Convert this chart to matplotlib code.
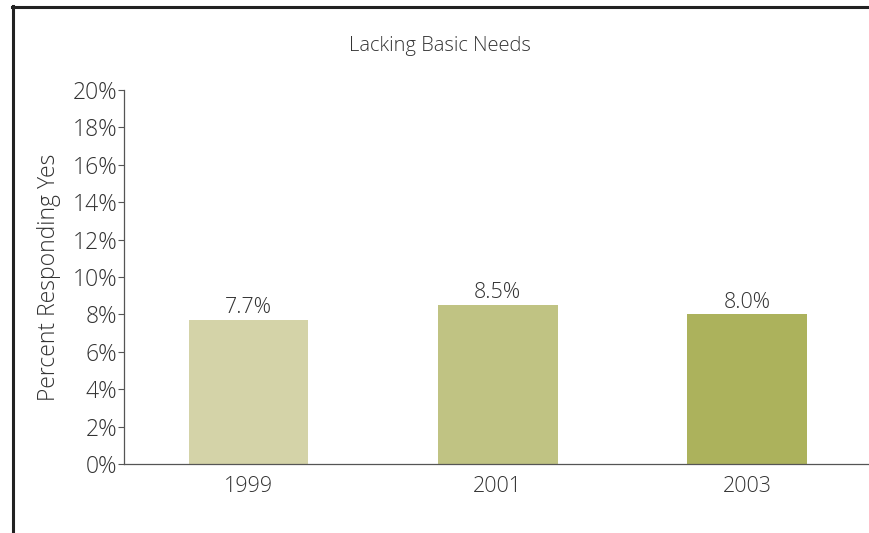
import matplotlib.pyplot as plt
from matplotlib.lines import Line2D

years = ["1999", "2001", "2003"]
values = [7.7, 8.5, 8.0]
colors = ["#d4d3a8", "#c0c383", "#acb25c"]
yticks = [0, 2, 4, 6, 8, 10, 12, 14, 16, 18, 20]

plt.rcParams["font.family"] = ["Open Sans", "DejaVu Sans"]
plt.rcParams["font.weight"] = "light"
plt.rcParams["axes.labelweight"] = "light"

fig = plt.figure(figsize=(8.69, 5.33), dpi=100)
ax = fig.add_axes([124 / 869, 1 - 464 / 533, (869 - 124) / 869, 374 / 533])

x = range(len(years))
bars = ax.bar(x, values, width=0.48, color=colors)
for b, v in zip(bars, values):
    ax.text(b.get_x() + b.get_width() / 2, v + 0.1, f"{v:.1f}%",
            ha="center", va="bottom", fontsize=15.5, color="#333333")

ax.set_xlim(-0.5, 2.49)
ax.set_ylim(0, 20)
ax.set_yticks(yticks)
ax.set_yticklabels([f"{t}%" for t in yticks], fontsize=16.5, color="#333333")
ax.set_xticks(list(x))
ax.set_xticklabels(years, fontsize=15.5, color="#333333")
ax.tick_params(axis="y", length=4, width=0.8, color="#555555", pad=1)
ax.tick_params(axis="x", length=0, pad=9)

for side in ["top", "right"]:
    ax.spines[side].set_visible(False)
ax.spines["left"].set_color("#555555")
ax.spines["bottom"].set_color("#555555")
ax.spines["left"].set_linewidth(0.9)
ax.spines["bottom"].set_linewidth(0.9)

ax.set_ylabel("Percent Responding Yes", fontsize=16.5, fontweight="light",
              color="#333333", labelpad=8)
fig.text(440 / 869, 1 - 46 / 533, "Lacking Basic Needs", ha="center", va="center",
         fontsize=14.5, color="#333333")

# frame lines along top and left edge
fig.add_artist(Line2D([13 / 869, 13 / 869], [0, 1 - 6 / 533], color="#222222", lw=2.2))
fig.add_artist(Line2D([12 / 869, 1], [1 - 7 / 533, 1 - 7 / 533], color="#222222", lw=2.2))

fig.savefig("out.png", dpi=100)
